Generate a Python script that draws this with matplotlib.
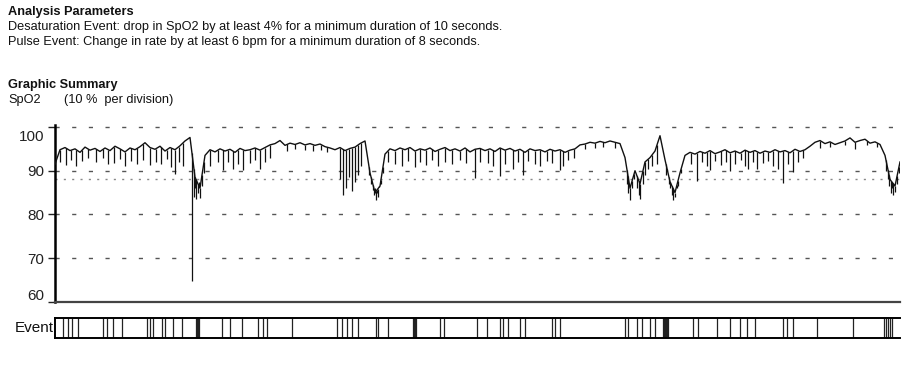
import numpy as np
import matplotlib
matplotlib.use("Agg")
import matplotlib.pyplot as plt
import matplotlib.transforms as mtransforms

plt.rcParams['font.family'] = ['Liberation Sans', 'DejaVu Sans']

# recording position (sample index along the trace), 5 units apart
trace_t = np.arange(0, 850, 5)
# SpO2 upper trace in blocks of ten
spo2 = [
    91.5, 94.8, 95.3, 94.6, 95.0, 94.2, 95.4, 94.7, 95.1, 94.4,
    95.2, 94.6, 95.6, 95.0, 94.3, 95.2, 94.8, 95.5, 96.4, 95.3,
    94.9, 95.6, 94.5, 95.3, 94.8, 95.7, 96.8, 97.6, 88.5, 86.0,
    93.5, 94.8, 94.3, 95.0, 94.5, 94.9, 94.2, 95.1, 94.6, 94.8,
    95.2, 94.7, 95.3, 95.9, 96.2, 96.9, 95.8, 96.3, 96.0, 96.4,
    95.9, 96.2, 95.8, 96.1, 95.5, 95.2, 94.8, 95.3, 94.6, 95.1,
    95.4, 96.2, 96.8, 89.5, 85.0, 86.5, 93.8, 95.0, 94.6, 95.2,
    94.8, 95.3, 94.5, 95.0, 94.7, 95.2, 94.4, 94.9, 95.3, 94.6,
    95.0, 94.5, 95.2, 94.3, 94.9, 95.1, 94.6, 95.0, 94.4, 95.2,
    94.7, 95.1, 94.5, 94.9, 94.2, 95.0, 94.6, 94.8, 94.3, 94.9,
    94.5, 94.8, 94.2, 94.7, 95.0, 95.9, 96.1, 96.5, 96.3, 96.7,
    96.4, 96.8, 96.5, 96.2, 93.0, 86.0, 90.0, 87.0, 92.0, 93.0,
    94.5, 98.0, 92.5, 87.5, 85.0, 89.5, 93.5, 94.2, 93.8, 94.4,
    94.0, 94.6, 93.9, 94.3, 94.8, 94.1, 94.5, 94.0, 94.7, 94.2,
    94.6, 94.0, 94.5, 94.2, 94.8, 94.3, 94.6, 94.1, 94.9, 94.4,
    94.8, 95.6, 96.5, 96.9, 96.2, 96.6, 96.0, 96.4, 96.8, 97.5,
    96.5, 96.9, 97.2, 96.3, 96.6, 96.0, 93.5, 88.0, 86.5, 92.0,
]

# short desaturation spikes: position and lowest value
dip_t = [
    5, 11, 16, 21, 27, 33, 41, 48, 53, 59, 65, 70, 76, 82, 88, 95, 101, 106,
    112, 116, 120, 124, 128,
    137, 139, 140, 141, 143, 144, 145, 147, 149,
    155, 163, 168, 173, 178, 183, 188, 195, 200, 205, 210, 215,
    232, 240, 250, 258, 266, 272,
    285, 288, 291, 294, 297, 300, 303, 306, 314, 316, 318, 319, 320, 321,
    322, 323, 324, 326, 328,
    333, 340, 347, 353, 360, 365, 371, 377, 383, 390, 397, 405, 411, 420,
    425, 433, 438, 445, 450, 458, 463, 468, 473, 480, 485, 492, 497, 505,
    508, 513, 519,
    530, 540, 548, 560,
    572, 573, 575, 577, 579, 582, 584, 585, 588, 590, 593, 597, 602,
    611, 612, 614, 615, 617, 618, 619, 620, 622, 623, 626,
    636, 642, 647, 652, 655, 660, 666, 671, 675, 680, 686, 690, 693, 698,
    702, 708, 713, 718, 723, 728, 733, 738, 743, 748,
    765, 775, 790, 800, 812, 822,
    831, 833, 834, 836, 837, 838, 840, 842, 844,
]
dip_low = [
    92.0, 91.2, 92.5, 91.0, 92.3, 93.0, 92.0, 92.8, 91.5, 91.8, 92.6, 91.0,
    92.2, 91.6, 92.4, 91.3, 92.0, 91.5, 92.7, 90.8, 89.2, 92.0, 91.0,
    64.9, 84.0, 86.0, 83.5, 85.0, 87.5, 83.8, 86.5, 89.5,
    91.0, 92.0, 90.2, 92.0, 90.3, 91.5, 90.2, 91.8, 92.5, 90.4, 92.0, 92.8,
    94.5, 95.0, 94.8, 94.6, 94.7, 94.2,
    88.0, 84.4, 86.0, 88.5, 85.3, 87.5, 89.0, 91.0, 89.0, 87.0, 85.5, 84.5,
    86.0, 83.3, 85.0, 84.0, 86.5, 87.0, 89.5,
    92.0, 91.5, 91.0, 92.2, 90.8, 92.0, 91.3, 92.5, 91.0, 92.0, 91.6, 92.4,
    91.7, 88.3, 92.0, 91.7, 91.0, 88.8, 91.5, 90.5, 92.0, 89.0, 92.2, 91.5,
    91.0, 92.3, 91.8, 90.2, 91.0, 92.5, 92.8,
    95.0, 95.3, 95.5, 95.2,
    87.0, 85.0, 83.3, 86.0, 88.0, 86.0, 84.5, 83.5, 87.0, 89.0, 90.5, 91.0, 91.5,
    89.0, 90.0, 87.0, 86.0, 84.5, 83.3, 85.5, 84.0, 86.0, 86.5, 89.5,
    91.5, 87.6, 92.0, 91.0, 90.2, 92.3, 91.3, 92.0, 89.9, 91.5, 92.4, 91.0,
    90.5, 92.0, 90.5, 91.8, 92.3, 91.0, 90.4, 87.2, 91.5, 89.8, 92.0, 92.8,
    95.2, 95.5, 95.8, 95.0, 95.8, 95.5,
    90.0, 88.0, 86.5, 85.0, 86.0, 84.5, 85.2, 87.0, 89.5,
]

# event marks along the bottom strip
event_t = [
    8, 13, 17, 23, 48, 52, 58, 67, 92, 95, 98, 107, 110, 118, 127,
    141, 142, 143, 144, 167, 175, 187, 203, 208, 212, 237,
    282, 287, 292, 297, 303, 321, 323, 333, 358, 359, 360, 361, 385, 389,
    422, 432, 445, 448, 453, 465, 470, 497, 500, 505,
    570, 573, 582, 587, 595, 600, 608, 609, 610, 611, 612, 613,
    638, 643, 662, 675, 685, 692, 700, 728, 732, 738, 762, 798,
    829, 831, 833, 835, 837,
]

y_ticks = [100, 90, 80, 70, 60]
grid_levels = [100, 90, 80, 70]
threshold_level = 88

W, H = 902, 367
fig = plt.figure(figsize=(W / 100, H / 100), dpi=100)

# header text
hdr = dict(fontsize=9.2, color='#111111', va='center', ha='left')
fig.text(8 / W, 1 - 12 / H, 'Analysis Parameters', fontweight='bold', **hdr)
fig.text(8 / W, 1 - 27 / H, 'Desaturation Event: drop in SpO2 by at least 4% for a minimum duration of 10 seconds.', **hdr)
fig.text(8 / W, 1 - 42 / H, 'Pulse Event: Change in rate by at least 6 bpm for a minimum duration of 8 seconds.', **hdr)
fig.text(8 / W, 1 - 85 / H, 'Graphic Summary', fontweight='bold', **hdr)
fig.text(8 / W, 1 - 100 / H, 'SpO2', **hdr)
fig.text(64 / W, 1 - 100 / H, '(10 %  per division)', **hdr)

# SpO2 graph
ax = fig.add_axes([55 / W, 1 - 302 / H, 845 / W, 177 / H])
ax.set_xlim(0, 845)
ax.set_ylim(60, 100.45)
for v in grid_levels:
    ax.axhline(v, color='#555555', lw=1.0, dashes=(3, 9), zorder=1)
ax.axhline(threshold_level, color='#888888', lw=1.0, dashes=(1.5, 4.5), zorder=1)

ax.plot(trace_t, spo2, color='#111111', lw=1.0, zorder=3)
tops = np.interp(dip_t, trace_t, spo2)
ax.vlines(dip_t, dip_low, tops, color='#111111', lw=0.9, zorder=3)

ax.set_xticks([])
ax.set_yticks(y_ticks)
ax.set_yticklabels([str(v) for v in y_ticks], fontsize=11)
ax.tick_params(axis='y', length=5, width=1, pad=3, colors='#222222')
for s in ['top', 'right']:
    ax.spines[s].set_visible(False)
ax.spines['left'].set_linewidth(1.8)
ax.spines['bottom'].set_linewidth(1.6)
ax.spines['bottom'].set_color('#444444')

# nudge the end labels inward like the printout
labels = ax.get_yticklabels()
labels[0].set_transform(labels[0].get_transform() +
                        mtransforms.ScaledTranslation(0, -9 / 100, fig.dpi_scale_trans))
labels[-1].set_transform(labels[-1].get_transform() +
                         mtransforms.ScaledTranslation(0, 7 / 100, fig.dpi_scale_trans))

# event strip
ax2 = fig.add_axes([55 / W, 1 - 338 / H, 845 / W, 20 / H])
ax2.set_xlim(0, 845)
ax2.set_ylim(0, 1)
ax2.vlines(event_t, 0, 1, color='#222222', lw=0.9)
ax2.set_xticks([])
ax2.set_yticks([])
ax2.spines['right'].set_visible(False)
for s in ['top', 'bottom', 'left']:
    ax2.spines[s].set_linewidth(1.4)
fig.text(54 / W, 1 - 328 / H, 'Event', fontsize=11, ha='right', va='center', color='#111111')

fig.savefig('out.png', dpi=100)
